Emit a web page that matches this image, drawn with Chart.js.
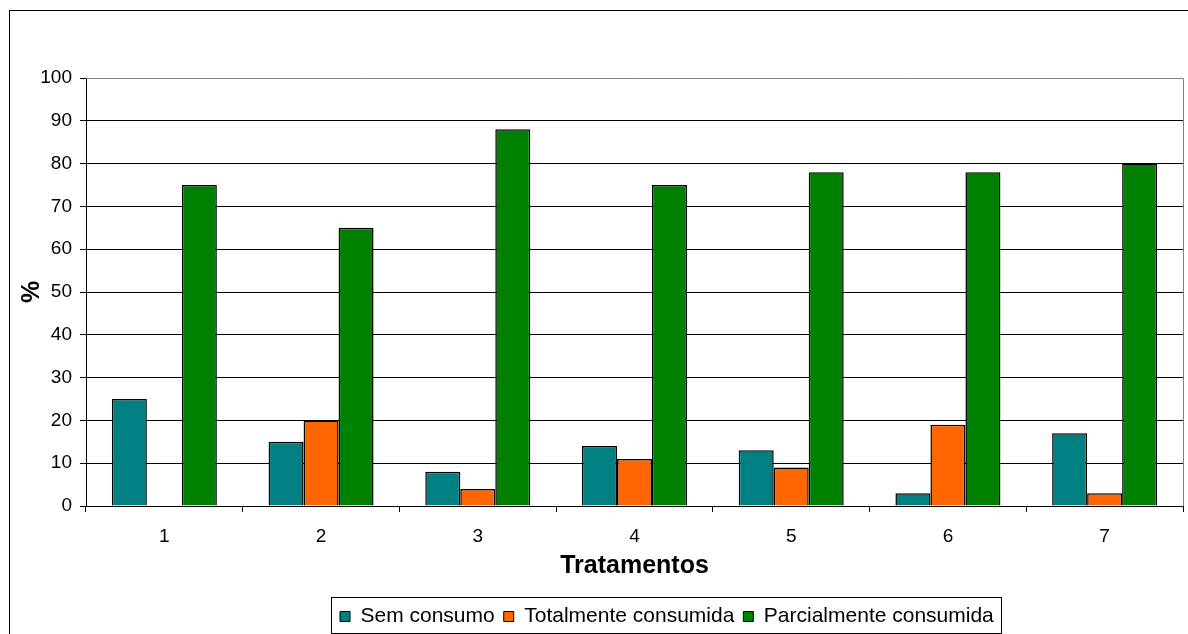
<!DOCTYPE html>
<html>
<head>
<meta charset="utf-8">
<script src="https://cdn.jsdelivr.net/npm/chart.js@4/dist/chart.umd.min.js"></script>
<style>
  html, body { margin: 0; padding: 0; background: #fff; overflow: hidden; }
  canvas { display: block; }
</style>
</head>
<body>
<canvas id="grafico" width="1188" height="634"></canvas>
<script>
// Tratamentos e percentuais por categoria de consumo
const categories = ['1', '2', '3', '4', '5', '6', '7'];
const semConsumo = [25, 15, 8, 14, 13, 3, 17];
const totalmenteConsumida = [0, 20, 4, 11, 9, 19, 3];
const parcialmenteConsumida = [75, 65, 88, 75, 78, 78, 80];
const yTicks = [0, 10, 20, 30, 40, 50, 60, 70, 80, 90, 100];

const FONT = "'Liberation Sans', Arial, sans-serif";

// Moldura externa, borda da área de plotagem e caixa da legenda
const molduras = {
  id: 'molduras',
  beforeUpdate(chart) {
    const lg = chart.legend;
    if (lg && !lg._alturaFixa) {
      const fitOriginal = lg.fit;
      lg.fit = function () {
        fitOriginal.call(this);
        this.height = 37;
      };
      lg._alturaFixa = true;
    }
  },
  afterLayout(chart) {
    const lg = chart.legend;
    if (!lg || !lg.lineWidths) return;
    const pad = lg.options.labels.padding;
    const inicio = (lg.left + pad + lg.right - lg.lineWidths[0]) / 2;
    const d = 340 - inicio;
    lg.left += d;
    lg.right += d;
  },
  beforeDraw(chart) {
    const ctx = chart.ctx;
    ctx.save();
    ctx.fillStyle = '#fff';
    ctx.fillRect(0, 0, chart.width, chart.height);
    ctx.strokeStyle = '#000';
    ctx.lineWidth = 1;
    ctx.strokeRect(9.5, 10.5, chart.width + 50, chart.height + 50);
    ctx.restore();
  },
  beforeDatasetsDraw(chart) {
    const { ctx, chartArea: a } = chart;
    ctx.save();
    ctx.strokeStyle = '#808080';
    ctx.lineWidth = 1;
    ctx.beginPath();
    ctx.moveTo(a.left, Math.round(a.top) + 0.5);
    ctx.lineTo(Math.round(a.right) + 0.5, Math.round(a.top) + 0.5);
    ctx.lineTo(Math.round(a.right) + 0.5, a.bottom);
    ctx.stroke();
    ctx.restore();
  },
  afterDraw(chart) {
    const lg = chart.legend;
    if (!lg || !lg.legendHitBoxes || !lg.legendHitBoxes.length) return;
    const hb = lg.legendHitBoxes;
    const x0 = Math.min(...hb.map(h => h.left)) - 9;
    const x1 = Math.max(...hb.map(h => h.left + h.width)) + 7;
    const ctx = chart.ctx;
    ctx.save();
    ctx.strokeStyle = '#000';
    ctx.lineWidth = 1;
    ctx.strokeRect(Math.round(x0) + 0.5, Math.round(lg.top) + 0.5, Math.round(x1 - x0), 36);
    ctx.restore();
  }
};

new Chart(document.getElementById('grafico'), {
  type: 'bar',
  data: {
    labels: categories,
    datasets: [
      { label: 'Sem consumo', data: semConsumo, backgroundColor: '#008080' },
      { label: 'Totalmente consumida', data: totalmenteConsumida, backgroundColor: '#FF6600' },
      { label: 'Parcialmente consumida', data: parcialmenteConsumida, backgroundColor: '#008000' }
    ]
  },
  options: {
    responsive: false,
    animation: false,
    devicePixelRatio: 1,
    layout: { padding: { left: 0, right: 5, top: 78, bottom: 0 } },
    datasets: {
      bar: {
        borderColor: '#000',
        borderWidth: 1.5,
        barPercentage: 1,
        categoryPercentage: 0.67
      }
    },
    scales: {
      x: {
        offset: true,
        grid: { offset: true, drawOnChartArea: false, drawTicks: true, tickLength: 6, color: '#000' },
        border: { display: true, color: '#000', width: 1 },
        ticks: { color: '#000', font: { family: FONT, size: 19 }, padding: 13 },
        title: {
          display: true,
          text: 'Tratamentos',
          color: '#000',
          font: { family: FONT, size: 25, weight: 'bold' },
          padding: { top: 0, bottom: 16 }
        },
        afterFit(scale) { scale.height = 91; }
      },
      y: {
        min: 0,
        max: 100,
        afterBuildTicks(scale) { scale.ticks = yTicks.map(v => ({ value: v })); },
        grid: {
          color: ctx => (ctx.tick && ctx.tick.value === 100 ? 'rgba(0,0,0,0)' : '#000'),
          tickColor: '#000',
          tickLength: 6,
          lineWidth: 1
        },
        border: { display: true, color: '#000', width: 1 },
        ticks: { color: '#000', font: { family: FONT, size: 19 }, padding: 8 },
        title: {
          display: true,
          text: '%',
          color: '#000',
          font: { family: FONT, size: 25, weight: 'bold' },
          padding: { top: 17, bottom: 0 }
        },
        afterFit(scale) { scale.width = 86; }
      }
    },
    plugins: {
      legend: {
        position: 'bottom',
        labels: {
          color: '#000',
          boxWidth: 10,
          boxHeight: 10,
          padding: 9,
          font: { family: FONT, size: 21 },
          generateLabels(chart) {
            return chart.data.datasets.map((ds, i) => ({
              text: ds.label,
              fillStyle: ds.backgroundColor,
              strokeStyle: '#000',
              lineWidth: 1,
              hidden: false,
              datasetIndex: i
            }));
          }
        }
      },
      tooltip: { enabled: false }
    }
  },
  plugins: [molduras]
});
</script>
</body>
</html>
